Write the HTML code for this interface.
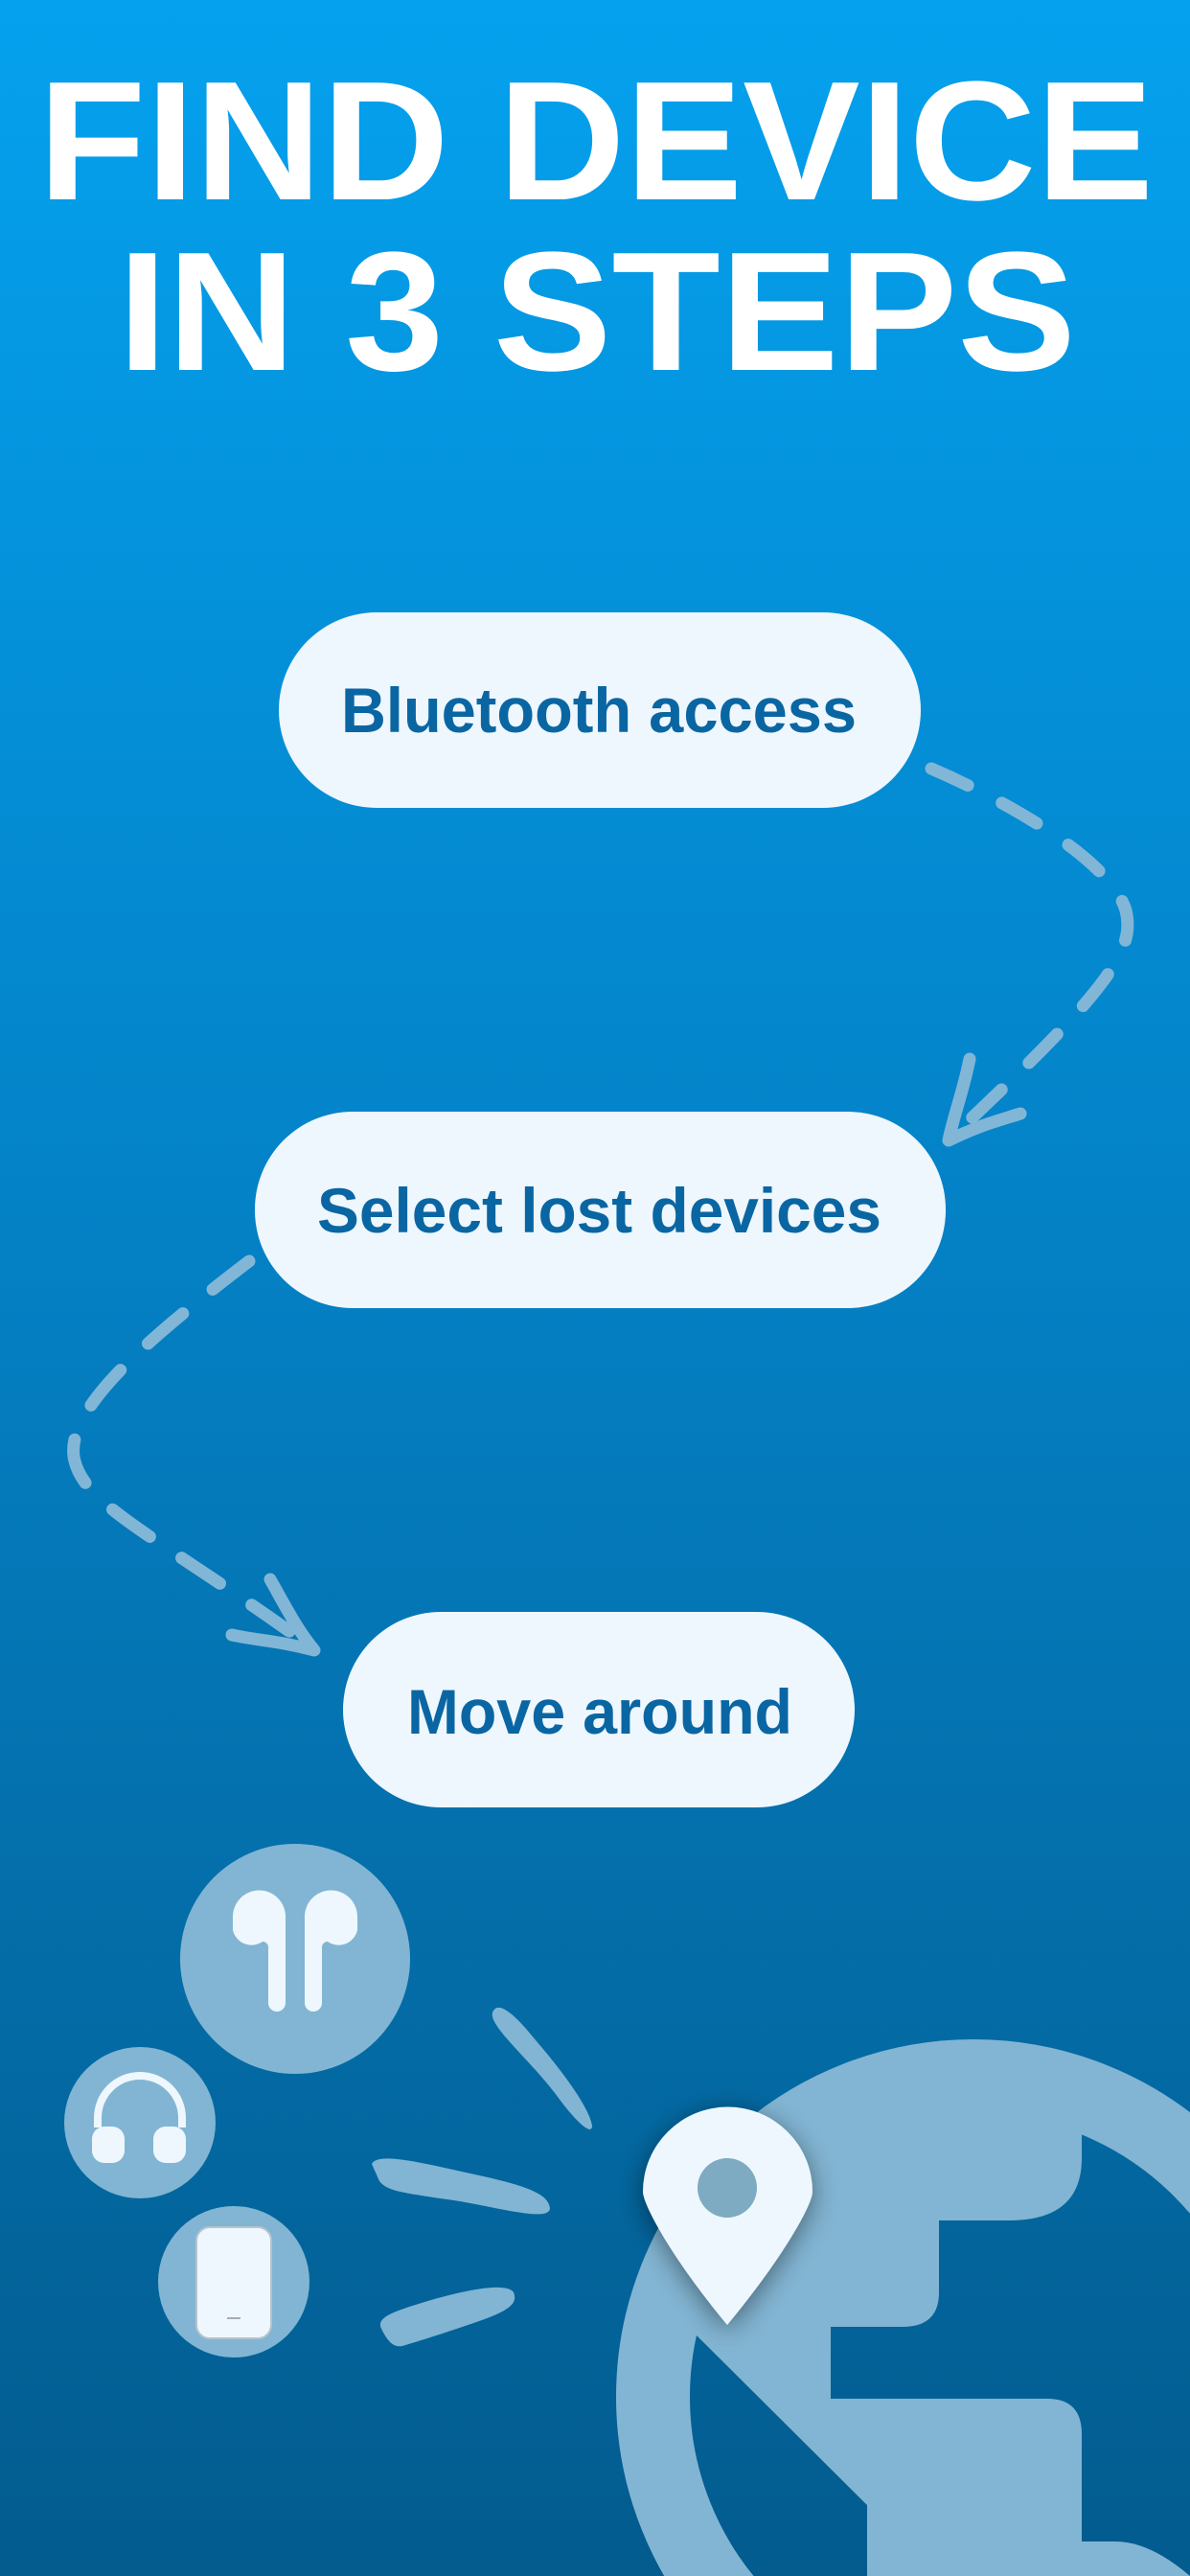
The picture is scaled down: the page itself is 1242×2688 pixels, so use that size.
<!DOCTYPE html>
<html><head><meta charset="utf-8"><style>
html,body{margin:0;padding:0;width:1242px;height:2688px;overflow:hidden}
svg{display:block}
</style></head><body>
<svg width="1242" height="2688" viewBox="0 0 1242 2688" xmlns="http://www.w3.org/2000/svg">
<defs>
<linearGradient id="bg" x1="0" y1="0" x2="0" y2="1">
<stop offset="0" stop-color="#05a1ee"/>
<stop offset="0.45" stop-color="#0483c8"/>
<stop offset="1" stop-color="#035b8e"/>
</linearGradient>
<filter id="sh" x="-50%" y="-50%" width="200%" height="200%">
<feGaussianBlur in="SourceAlpha" stdDeviation="14"/>
<feOffset dx="0" dy="6"/>
<feComponentTransfer><feFuncA type="linear" slope="0.45"/></feComponentTransfer>
<feMerge><feMergeNode/><feMergeNode in="SourceGraphic"/></feMerge>
</filter>
</defs>
<rect width="1242" height="2688" fill="url(#bg)"/>

<g font-family="Liberation Sans, Arial, sans-serif" font-weight="bold" fill="#ffffff" font-size="177">
<text x="40" y="208" textLength="1164" lengthAdjust="spacingAndGlyphs">FIND DEVICE</text>
<text x="123" y="386" textLength="1000" lengthAdjust="spacingAndGlyphs">IN 3 STEPS</text>
</g>

<!-- pills -->
<g fill="#eef7fd">
<rect x="291" y="639" width="670" height="204" rx="102"/>
<rect x="266" y="1160" width="721" height="205" rx="102"/>
<rect x="358" y="1682" width="534" height="204" rx="102"/>
</g>
<g font-family="Liberation Sans, Arial, sans-serif" font-weight="bold" fill="#0a66a3" font-size="66">
<text x="356" y="764" textLength="538" lengthAdjust="spacingAndGlyphs">Bluetooth access</text>
<text x="331" y="1286" textLength="589" lengthAdjust="spacingAndGlyphs">Select lost devices</text>
<text x="425" y="1809" textLength="402" lengthAdjust="spacingAndGlyphs">Move around</text>
</g>

<!-- dashed connectors -->
<g fill="none" stroke="#82b6d6" stroke-width="13" stroke-linecap="round" stroke-linejoin="round">
<path d="M972 802 C1060 840 1160 900 1175 950 C1185 990 1160 1030 1000 1180" stroke-dasharray="42 40"/>
<path d="M1012 1105 C1005 1140 995 1165 990 1190 C1020 1175 1040 1170 1065 1162"/>
<path d="M260 1316 C150 1400 70 1470 77 1520 C85 1570 160 1600 320 1715" stroke-dasharray="48 40"/>
<path d="M282 1648 C300 1680 310 1700 328 1722 C290 1712 270 1712 242 1706"/>
</g>

<!-- device circles -->
<g fill="#82b5d3">
<circle cx="308" cy="2044" r="120"/>
<circle cx="146" cy="2215" r="79"/>
<circle cx="244" cy="2381" r="79"/>
</g>
<!-- airpods -->
<g fill="#eef7fd">
<path d="M243 2000 a26 26 0 0 1 55 0 v90 a9 9 0 0 1 -18 0 v-58 a6 6 0 0 0 -6 -6 a20 20 0 0 1 -31 -12 z"/>
<path d="M373 2000 a26 26 0 0 0 -55 0 v90 a9 9 0 0 0 18 0 v-58 a6 6 0 0 1 6 -6 a20 20 0 0 0 31 -12 z"/>
</g>
<!-- headphones -->
<g>
<path d="M102 2220 v-10 a44 44 0 0 1 88 0 v10" fill="none" stroke="#eef7fd" stroke-width="8"/>
<rect x="96" y="2219" width="34" height="38" rx="13" fill="#eef7fd"/>
<rect x="160" y="2219" width="34" height="38" rx="13" fill="#eef7fd"/>
</g>
<!-- phone -->
<rect x="205" y="2324" width="78" height="116" rx="14" fill="#eef7fd" stroke="#b7c3cc" stroke-width="2"/>
<line x1="237" y1="2419" x2="251" y2="2419" stroke="#aab" stroke-width="2"/>

<!-- rays -->
<g fill="#82b5d3">
<path d="M514 2100 C520 2085 540 2105 560 2130 C590 2165 615 2200 618 2218 C618 2230 600 2212 585 2192 C555 2150 510 2115 514 2100 Z"/>
<path d="M388 2258 C395 2245 440 2257 500 2270 C560 2283 572 2292 574 2304 C574 2318 530 2306 480 2297 C420 2288 405 2287 396 2276 Z"/>
<path d="M398 2430 C392 2418 410 2412 450 2400 C500 2386 530 2383 536 2392 C540 2402 535 2410 500 2422 C460 2436 430 2445 420 2448 C410 2450 404 2442 398 2430 Z"/>
</g>

<!-- globe -->
<circle cx="1016" cy="2501" r="334.5" fill="none" stroke="#82b5d3" stroke-width="77"/>
<path fill="#82b5d3" d="M725 2435 A296 296 0 0 1 1129 2227 L1129 2252 Q1129 2317 1053 2317 L980 2317 L980 2392 Q980 2428 942 2428 L867 2428 L867 2503 L1093 2503 Q1129 2503 1129 2540 L1129 2652 L1164 2652 Q1200 2652 1242 2688 L905 2688 L905 2614 Z"/>

<!-- pin -->
<g filter="url(#sh)">
<path d="M759 2426 C700 2355 671 2300 671 2287 A88 88 0 0 1 848 2287 C848 2300 818 2355 759 2426 Z" fill="#eef7fd"/>
</g>
<circle cx="759" cy="2283" r="31" fill="#7eaac2"/>
</svg>
</body></html>
